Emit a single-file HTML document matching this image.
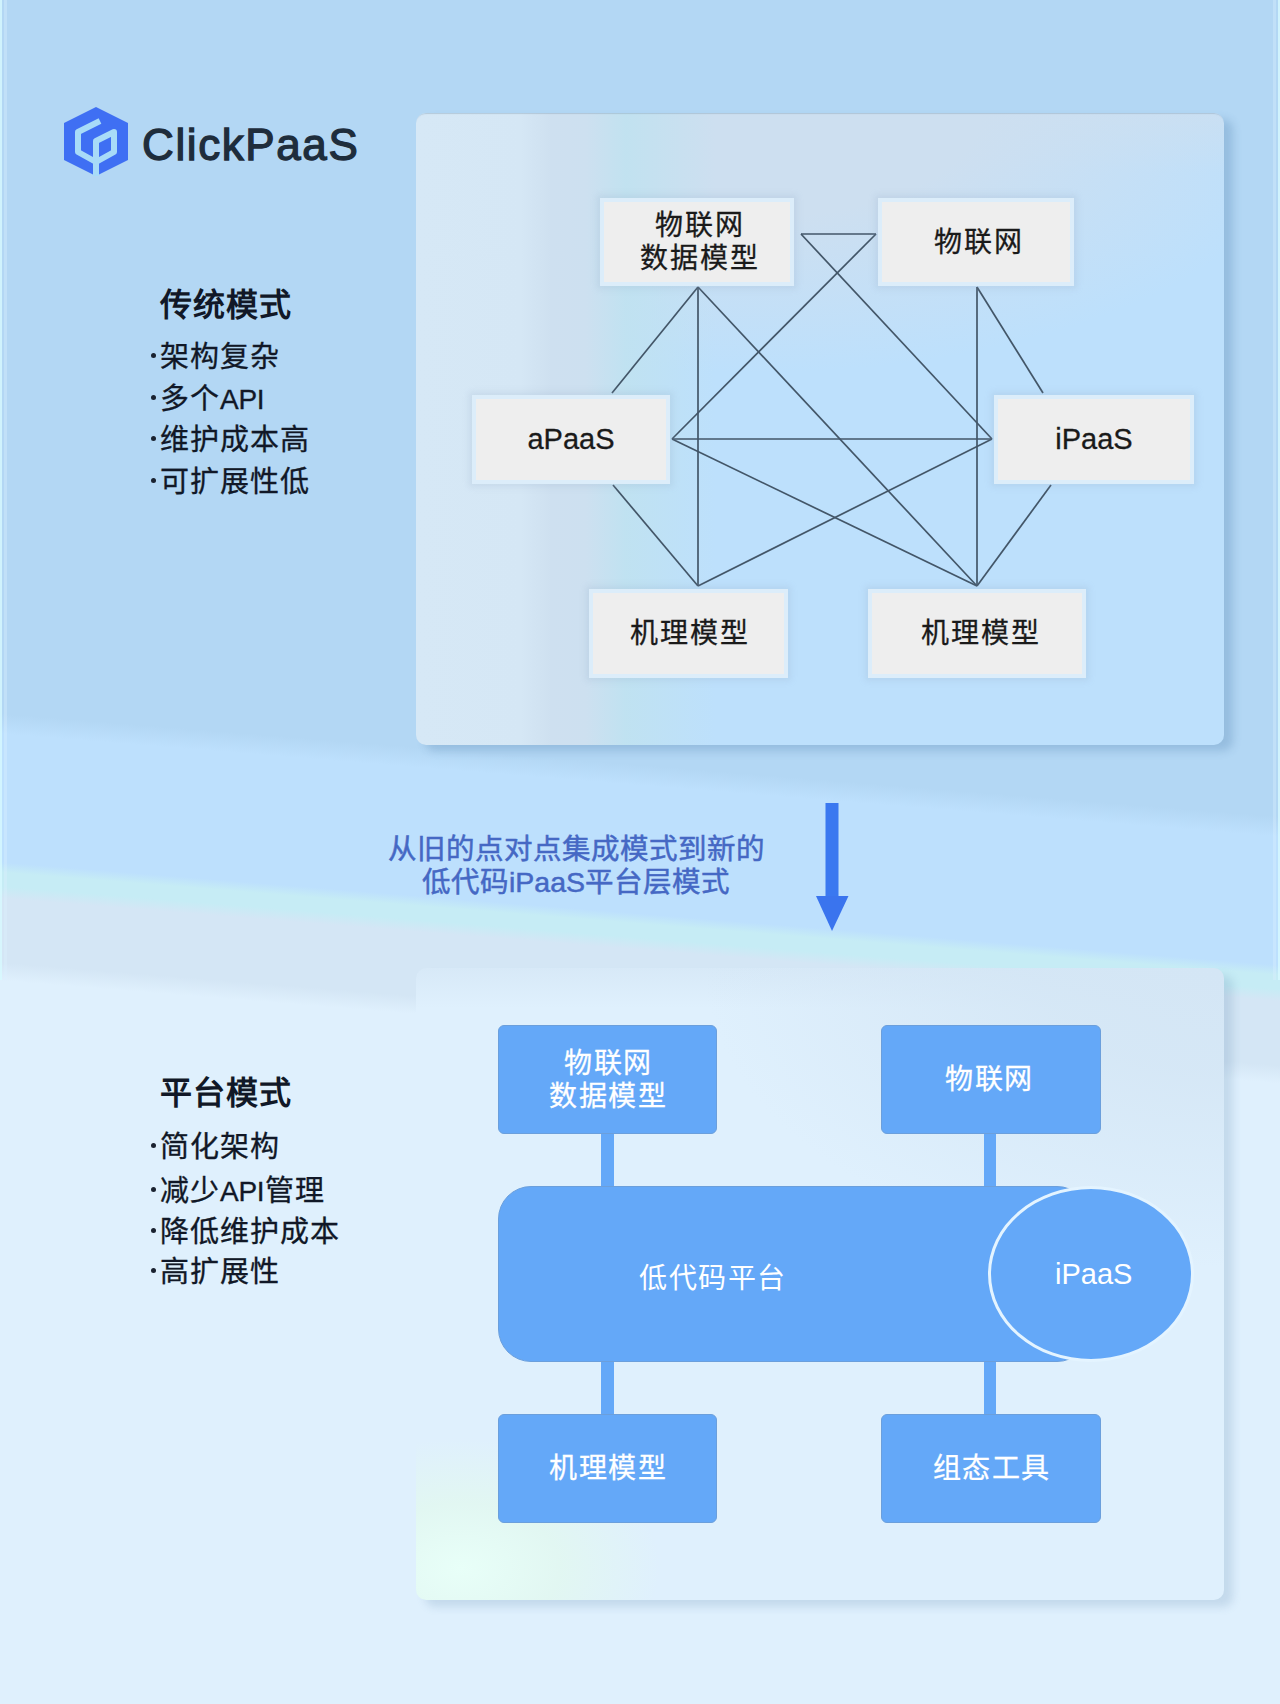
<!DOCTYPE html>
<html lang="zh-CN">
<head>
<meta charset="utf-8">
<style>
*{margin:0;padding:0;box-sizing:border-box;}
html,body{width:1280px;height:1704px;overflow:hidden;}
body{
  position:relative;
  font-family:"Liberation Sans",sans-serif;
  background:linear-gradient(184.6deg,
    #b3d7f4 0px, #b3d7f4 814px, #bde0fd 834px, #bde0fd 962px,
    #c6ecf5 972px, #c6ecf5 986px, #d4e6f5 998px, #d4e6f5 1062px, #dff0fd 1080px, #dff0fd 1802px);
}
.abs{position:absolute;}
.card{position:absolute;border-radius:10px;}
#card1{left:416px;top:113px;width:808px;height:632px;
  background:
    linear-gradient(90deg, #d6e8f6 0px, #d5e7f5 105px, #cee0f0 135px, #cde0f0 170px, rgba(192,226,240,0.9) 210px, rgba(190,226,245,0) 300px),
    radial-gradient(ellipse 560px 260px at 42% 0%, rgba(205,223,240,1) 0%, rgba(205,223,240,1) 40%, rgba(205,223,240,0) 100%),
    linear-gradient(180deg, rgba(205,223,240,0.7) 0px, rgba(205,223,240,0) 60px),
    #bde0fc;
  box-shadow:9px 6px 8px rgba(60,110,160,0.24), inset 0 2px 1px -1px rgba(140,165,185,0.45);
}
#card2{left:416px;top:968px;width:808px;height:632px;
  background:
    radial-gradient(ellipse 200px 130px at 45px 600px, rgba(232,255,248,1) 0%, rgba(226,248,240,0.85) 50%, rgba(226,248,240,0) 100%),
    radial-gradient(ellipse 520px 300px at 100% 0%, rgba(212,230,245,1) 0%, rgba(212,230,245,0.85) 35%, rgba(212,230,245,0) 100%),
    linear-gradient(180deg, rgba(212,230,245,0.7) 0px, rgba(212,230,245,0) 40px),
    #dff0fd;
  box-shadow:9px 7px 8px rgba(90,130,170,0.2);
}
.gbox{position:absolute;background:#eeeeee;border:4px solid #dcedfa;box-shadow:0 0 6px 3px rgba(150,175,200,0.22);
  display:flex;align-items:center;justify-content:center;text-align:center;
  color:#1a1a1a;font-size:28px;line-height:33px;letter-spacing:2px;padding-left:2px;-webkit-text-stroke:0.3px #1a1a1a;}
.bbox{position:absolute;background:#64a8f8;border-radius:6px;border:1.5px solid #6b9fdc;
  display:flex;align-items:center;justify-content:center;text-align:center;
  color:#fff;font-size:28px;line-height:33px;letter-spacing:1.5px;padding-left:1.5px;-webkit-text-stroke:0.3px #fff;}
.h{position:absolute;font-size:32px;font-weight:bold;color:#111827;letter-spacing:1px;}
.li{position:absolute;font-size:29px;color:#111827;-webkit-text-stroke:0.3px #111827;white-space:nowrap;letter-spacing:1px;padding-left:14px;line-height:40px;}
.api{letter-spacing:-0.3px;font-size:28px;margin-right:1px;}
.li b{position:absolute;left:4.5px;top:15.5px;width:5px;height:5px;border-radius:50%;background:#1a2230;}
</style>
</head>
<body>

<div class="abs" style="left:0;top:0;width:2px;height:980px;background:rgba(215,250,255,0.8)"></div>
<div class="abs" style="left:4px;top:0;width:3px;height:980px;background:rgba(220,240,255,0.35)"></div>
<div class="abs" style="right:0;top:0;width:2px;height:980px;background:rgba(215,250,255,0.8)"></div>
<div class="abs" style="right:4px;top:0;width:3px;height:980px;background:rgba(220,240,255,0.35)"></div>
<!-- logo -->
<svg class="abs" style="left:56px;top:100px" width="84" height="84" viewBox="56 100 84 84">
  <polygon points="96,107 128,123 128,160 96,176 64,160 64,123" fill="#3f6ff3"/>
  <g fill="none" stroke="#a8dbf8" stroke-width="6" stroke-linejoin="round" stroke-linecap="butt">
    <polyline points="100,121 78,132 78,152 96,162 114,152 114,132 96,141 96,176"/>
  </g>
</svg>
<div class="abs" style="left:142px;top:120px;font-size:44px;font-weight:normal;color:#1e2d3c;letter-spacing:1.6px;-webkit-text-stroke:1.3px #1e2d3c;">ClickPaaS</div>

<!-- left text 1 -->
<div class="h" style="left:160px;top:279px;">传统模式</div>
<div class="li" style="left:146px;top:337px;"><b></b>架构复杂</div>
<div class="li" style="left:146px;top:379px;"><b></b>多个<span class="api">API</span></div>
<div class="li" style="left:146px;top:420px;"><b></b>维护成本高</div>
<div class="li" style="left:146px;top:462px;"><b></b>可扩展性低</div>

<!-- card 1 -->
<div class="card" id="card1"></div>

<svg class="abs" style="left:0;top:0" width="1280" height="800">
  <g stroke="#435668" stroke-width="1.7" fill="none">
    <line x1="801" y1="234" x2="876" y2="234"/>
    <line x1="801" y1="234" x2="992" y2="439"/>
    <line x1="876" y1="234" x2="672" y2="439"/>
    <line x1="672" y1="439" x2="992" y2="439"/>
    <line x1="698" y1="287" x2="612" y2="393"/>
    <line x1="698" y1="287" x2="698" y2="586"/>
    <line x1="698" y1="287" x2="977" y2="586"/>
    <line x1="977" y1="287" x2="977" y2="586"/>
    <line x1="977" y1="287" x2="1043" y2="393"/>
    <line x1="613" y1="485" x2="698" y2="586"/>
    <line x1="698" y1="586" x2="992" y2="439"/>
    <line x1="672" y1="439" x2="977" y2="586"/>
    <line x1="1051" y1="485" x2="977" y2="586"/>
  </g>
</svg>

<div class="gbox" style="left:600px;top:198px;width:194px;height:88px;padding-left:6px;">物联网<br>数据模型</div>
<div class="gbox" style="left:878px;top:198px;width:196px;height:88px;padding-left:6px;">物联网</div>
<div class="gbox" style="left:472px;top:395px;width:198px;height:89px;letter-spacing:0;padding-left:0;font-size:29px;">aPaaS</div>
<div class="gbox" style="left:994px;top:395px;width:200px;height:89px;letter-spacing:0;padding-left:0;font-size:29px;">iPaaS</div>
<div class="gbox" style="left:589px;top:589px;width:199px;height:89px;">机理模型</div>
<div class="gbox" style="left:868px;top:589px;width:218px;height:89px;padding-left:7px;">机理模型</div>

<!-- middle -->
<div class="abs" style="left:380px;top:833px;width:392px;text-align:center;font-size:28.5px;line-height:33px;color:#4568c4;-webkit-text-stroke:0.5px #4568c4;">从旧的点对点集成模式到新的<br>低代码iPaaS平台层模式</div>
<svg class="abs" style="left:810px;top:800px" width="50" height="140" viewBox="810 800 50 140">
  <rect x="825.5" y="803" width="13" height="95" fill="#3a78f0"/>
  <polygon points="816,896 848.5,896 832,931" fill="#3a74ee"/>
</svg>

<!-- left text 2 -->
<div class="h" style="left:160px;top:1067px;">平台模式</div>
<div class="li" style="left:146px;top:1127px;"><b></b>简化架构</div>
<div class="li" style="left:146px;top:1171px;"><b></b>减少<span class="api">API</span>管理</div>
<div class="li" style="left:146px;top:1212px;"><b></b>降低维护成本</div>
<div class="li" style="left:146px;top:1252px;"><b></b>高扩展性</div>

<!-- card 2 -->
<div class="card" id="card2"></div>

<!-- connectors -->
<div class="abs" style="left:601px;top:1130px;width:13px;height:60px;background:#64a8f8;"></div>
<div class="abs" style="left:984px;top:1130px;width:12px;height:60px;background:#64a8f8;"></div>
<div class="abs" style="left:601px;top:1358px;width:13px;height:60px;background:#64a8f8;"></div>
<div class="abs" style="left:984px;top:1358px;width:12px;height:60px;background:#64a8f8;"></div>

<div class="bbox" style="left:498px;top:1025px;width:219px;height:109px;">物联网<br>数据模型</div>
<div class="bbox" style="left:881px;top:1025px;width:220px;height:109px;padding-right:5px;">物联网</div>
<div class="bbox" style="left:498px;top:1414px;width:219px;height:109px;">机理模型</div>
<div class="bbox" style="left:881px;top:1414px;width:220px;height:109px;">组态工具</div>

<!-- platform pill -->
<div class="abs" style="left:498px;top:1186px;width:592px;height:176px;background:#64a8f8;border-radius:33px;border:1.5px solid #6b9fdc;"></div>
<div class="abs" style="left:639px;top:1261px;font-size:28px;color:#fff;line-height:36px;letter-spacing:1.5px;">低代码平台</div>
<div class="abs" style="left:988px;top:1186px;width:206px;height:176px;border-radius:50%;background:#64a8f8;border:3px solid #e4f4ff;"></div>
<div class="abs" style="left:1055px;top:1256px;font-size:29px;color:#fff;line-height:36px;">iPaaS</div>

</body>
</html>
